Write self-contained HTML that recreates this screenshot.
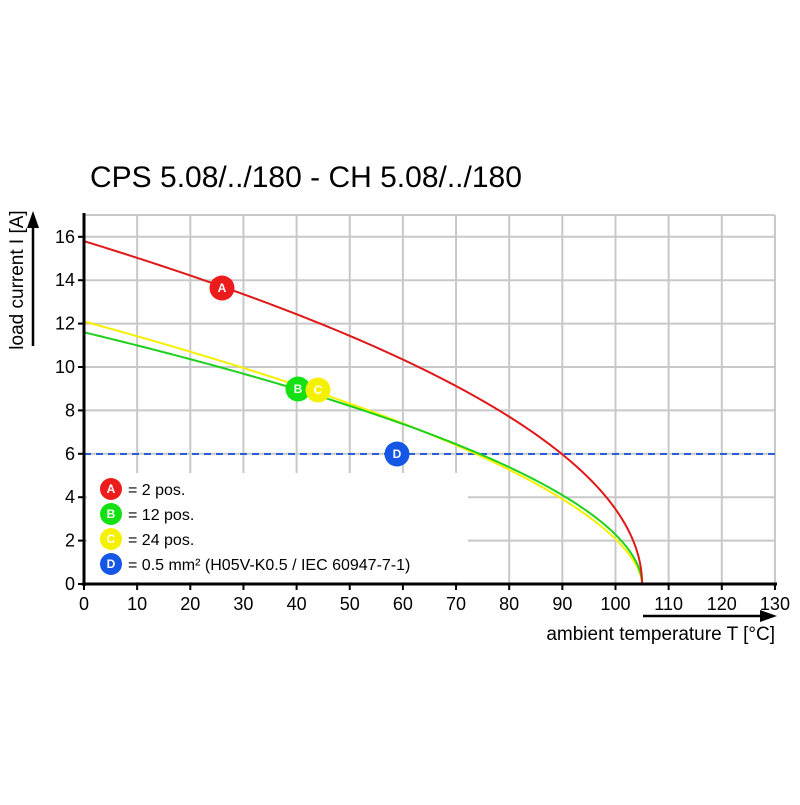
<!DOCTYPE html>
<html><head><style>body{margin:0;background:#fff}</style></head><body>
<svg id="s" width="800" height="800" xmlns="http://www.w3.org/2000/svg" font-family="Liberation Sans, Arial, sans-serif">
<rect width="800" height="800" fill="#fff"/>
<text x="90" y="187" font-size="30" fill="#000">CPS 5.08/../180 - CH 5.08/../180</text>
<g id="grid" stroke="#c8c8c8" stroke-width="2"></g>
<rect x="87" y="473" width="381" height="109" fill="#fff"/>
<line x1="84" y1="454" x2="775" y2="454" stroke="#2a5fd6" stroke-width="2" stroke-dasharray="7,5"/>
<path id="cy" fill="none" stroke="#f5f000" stroke-width="2"/>
<path id="cg" fill="none" stroke="#1fd11f" stroke-width="2"/>
<path id="cr" fill="none" stroke="#e01818" stroke-width="2"/>
<line x1="84" y1="213" x2="84" y2="586" stroke="#000" stroke-width="3"/>
<line x1="82" y1="584" x2="777" y2="584" stroke="#000" stroke-width="3"/>
<g id="ticks" font-size="18" fill="#000"></g>
<g font-size="12" font-weight="bold" fill="#fff" text-anchor="middle">
<circle cx="222" cy="288" r="12.5" fill="#ec1c1c"/><text x="222" y="292">A</text>
<circle cx="298" cy="389" r="12.5" fill="#14e014"/><text x="298" y="393">B</text>
<circle cx="318" cy="390" r="12.5" fill="#f5f000"/><text x="318" y="394">C</text>
<circle cx="397" cy="454" r="12.5" fill="#1456e6"/><text x="397" y="458">D</text>
<circle cx="111" cy="489" r="11" fill="#ec1c1c"/><text x="111" y="493">A</text>
<circle cx="111" cy="514" r="11" fill="#14e014"/><text x="111" y="518">B</text>
<circle cx="111" cy="539" r="11" fill="#f5f000"/><text x="111" y="543">C</text>
<circle cx="111" cy="564" r="11" fill="#1456e6"/><text x="111" y="568">D</text>
</g>
<g font-size="16" fill="#000">
<text x="128" y="495">= 2 pos.</text>
<text x="128" y="520">= 12 pos.</text>
<text x="128" y="545">= 24 pos.</text>
<text x="128" y="570">= 0.5 mm² (H05V-K0.5 / IEC 60947-7-1)</text>
</g>
<text transform="translate(23,280) rotate(-90)" font-size="19" text-anchor="middle">load current I [A]</text>
<line x1="33" y1="346" x2="33" y2="225" stroke="#000" stroke-width="2.5"/>
<polygon points="27,228 39,228 33,211" fill="#000"/>
<text x="775" y="640" font-size="19" text-anchor="end">ambient temperature T [°C]</text>
<line x1="643" y1="616" x2="762" y2="616" stroke="#000" stroke-width="2.5"/>
<polygon points="760,610 760,622 777,616" fill="#000"/>
</svg>
<script>
var X=t=>84+t*5.315,Y=v=>584-v*21.7,ns="http://www.w3.org/2000/svg";
function el(p,n,a,tx){var e=document.createElementNS(ns,n);for(var k in a)e.setAttribute(k,a[k]);if(tx!=null)e.textContent=tx;document.getElementById(p).appendChild(e);}
for(var i=1;i<=13;i++)el("grid","line",{x1:X(i*10),y1:215,x2:X(i*10),y2:584});
for(var j=1;j<=8;j++)el("grid","line",{x1:84,y1:Y(j*2),x2:775,y2:Y(j*2)});
el("grid","line",{x1:84,y1:215,x2:775,y2:215});
for(var i=0;i<=13;i++){el("ticks","text",{x:X(i*10),y:610,"text-anchor":"middle"},i*10);el("ticks","line",{x1:X(i*10),y1:584,x2:X(i*10),y2:590,stroke:"#000","stroke-width":2});}
for(var j=0;j<=8;j++){el("ticks","text",{x:75,y:Y(j*2)+6,"text-anchor":"end"},j*2);el("ticks","line",{x1:78,y1:Y(j*2),x2:84,y2:Y(j*2),stroke:"#000","stroke-width":2});}
function c(id,I0,p){var d="";for(var k=0;k<=420;k++){var t=105*(1-Math.pow(1-k/420,2));var v=I0*Math.pow((105-t)/105,p);d+=(k?"L":"M")+X(t).toFixed(2)+","+Y(v).toFixed(2);}document.getElementById(id).setAttribute("d",d);}
c("cr",15.8,0.5);c("cg",11.6,0.535);c("cy",12.1,0.58);
</script>
</body></html>
